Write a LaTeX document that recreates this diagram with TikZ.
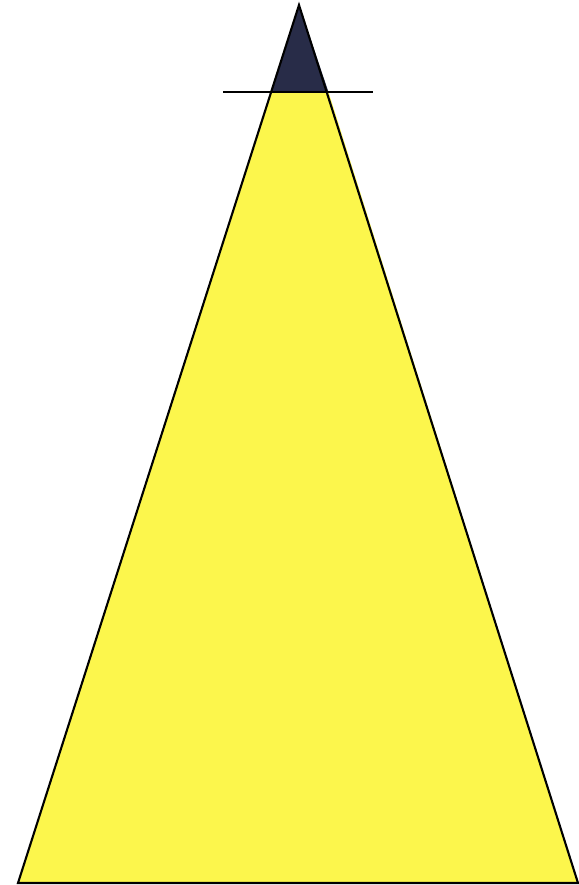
\documentclass[tikz,border=0pt]{standalone}
\definecolor{paleyellow}{RGB}{252,246,76}
\definecolor{darknavy}{RGB}{40,44,72}
\tikzset{edge/.style={draw=black,line width=1.05pt,line join=miter}}
\begin{document}
\begin{tikzpicture}[x=0.5pt,y=-0.5pt]
\useasboundingbox (0,0) rectangle (579,885);
\coordinate (apex) at (299,5);
\coordinate (bl) at (18,883);
\coordinate (br) at (578,883);
\coordinate (ml) at (270.5,92);
\coordinate (mr) at (328.5,92);
\coordinate (hl) at (223,92);
\coordinate (hr) at (373,92);
\fill[paleyellow] (ml) -- (mr) -- (br) -- (bl) -- cycle;
\fill[darknavy] (apex) -- (mr) -- (ml) -- cycle;
\draw[edge] (apex) -- (br) -- (bl) -- cycle;
\draw[black,line width=0.8pt] (hl) -- (hr);
\end{tikzpicture}
\end{document}
